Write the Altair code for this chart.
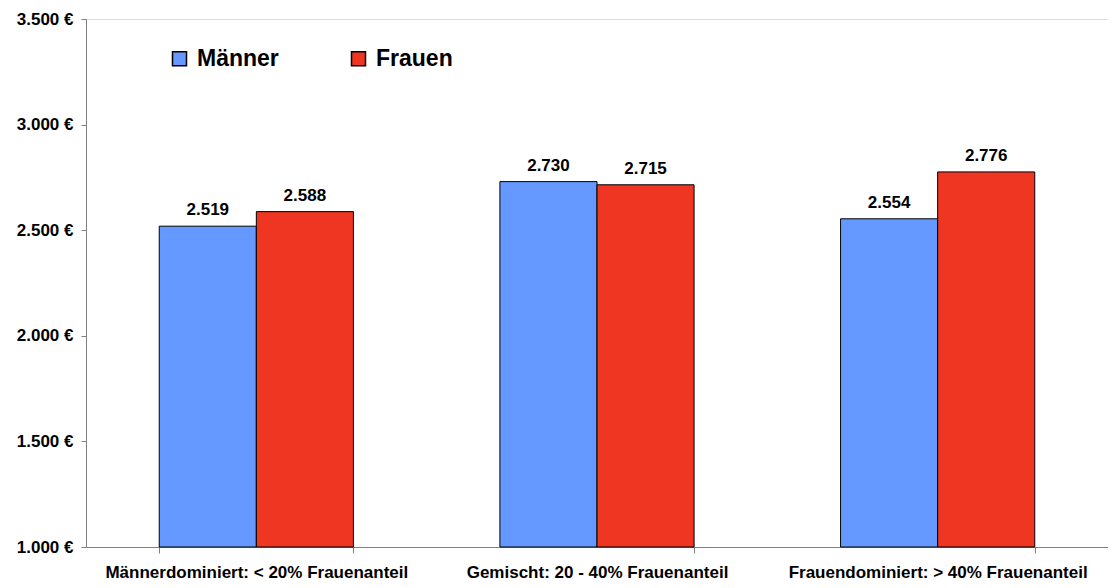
import altair as alt
import pandas as pd

categories = ["Männerdominiert: < 20% Frauenanteil", "Gemischt: 20 - 40% Frauenanteil", "Frauendominiert: > 40% Frauenanteil"]
series = ["Männer", "Frauen"]
maenner = [2519, 2730, 2554]
frauen = [2588, 2715, 2776]
colors = ["#6699FF", "#EE3622"]

rows = []
for c, m, f in zip(categories, maenner, frauen):
    rows.append({"Kategorie": c, "Gruppe": "Männer", "Wert": m})
    rows.append({"Kategorie": c, "Gruppe": "Frauen", "Wert": f})
df = pd.DataFrame(rows)
df["Label"] = df["Wert"].map(lambda v: f"{v:,}".replace(",", "."))

FONT = "Liberation Sans"

x = alt.X("Kategorie:N", sort=categories, title=None,
          scale=alt.Scale(paddingInner=0.43, paddingOuter=0.215),
          axis=alt.Axis(labelAngle=0, tickBand="extent", tickSize=6, labelPadding=11,
                        labelLimit=0,
                        labelFont=FONT, labelFontSize=17, labelFontWeight="bold",
                        labelColor="black", domainColor="#808080", tickColor="#808080"))
xo = alt.XOffset("Gruppe:N", sort=series, scale=alt.Scale(paddingInner=0, paddingOuter=0))
y = alt.Y("Wert:Q", title=None,
          scale=alt.Scale(domain=[1000, 3500], nice=False, zero=False),
          axis=alt.Axis(values=[1000, 1500, 2000, 2500, 3000, 3500], grid=False,
                        labelExpr="replace(format(datum.value, ','), ',', '.') + ' €'",
                        tickSize=5, labelPadding=8, labelFont=FONT, labelFontSize=17,
                        labelFontWeight="bold", labelColor="black",
                        domainColor="#808080", tickColor="#808080"))

color = alt.Color("Gruppe:N", sort=series,
                  scale=alt.Scale(domain=series, range=colors),
                  legend=alt.Legend(title=None, orient="none", legendX=82, legendY=28,
                                    direction="horizontal", symbolType="square",
                                    symbolSize=196, symbolStrokeColor="black",
                                    symbolStrokeWidth=1.5, symbolOpacity=1,
                                    labelFont=FONT, labelFontSize=23, labelFontWeight="bold",
                                    labelColor="black", labelOffset=6, columnPadding=68,
                                    padding=0))

bars = alt.Chart(df).mark_bar(stroke="black", strokeWidth=1, opacity=1).encode(
    x=x, xOffset=xo, y=y, y2=alt.Y2(datum=1000), color=color
)
texts = alt.Chart(df).mark_text(font=FONT, fontSize=17, fontWeight="bold", color="black",
                                baseline="alphabetic", dy=-11).encode(
    x=x, xOffset=xo, y=y, text="Label:N"
)

chart = (bars + texts).properties(
    width=1022, height=528,
    padding={"left": 8, "top": 2, "right": 0, "bottom": 0}
).configure_view(stroke=None).configure(background="white")

chart.save("out.html", embed_options={"renderer": "svg", "actions": False})
